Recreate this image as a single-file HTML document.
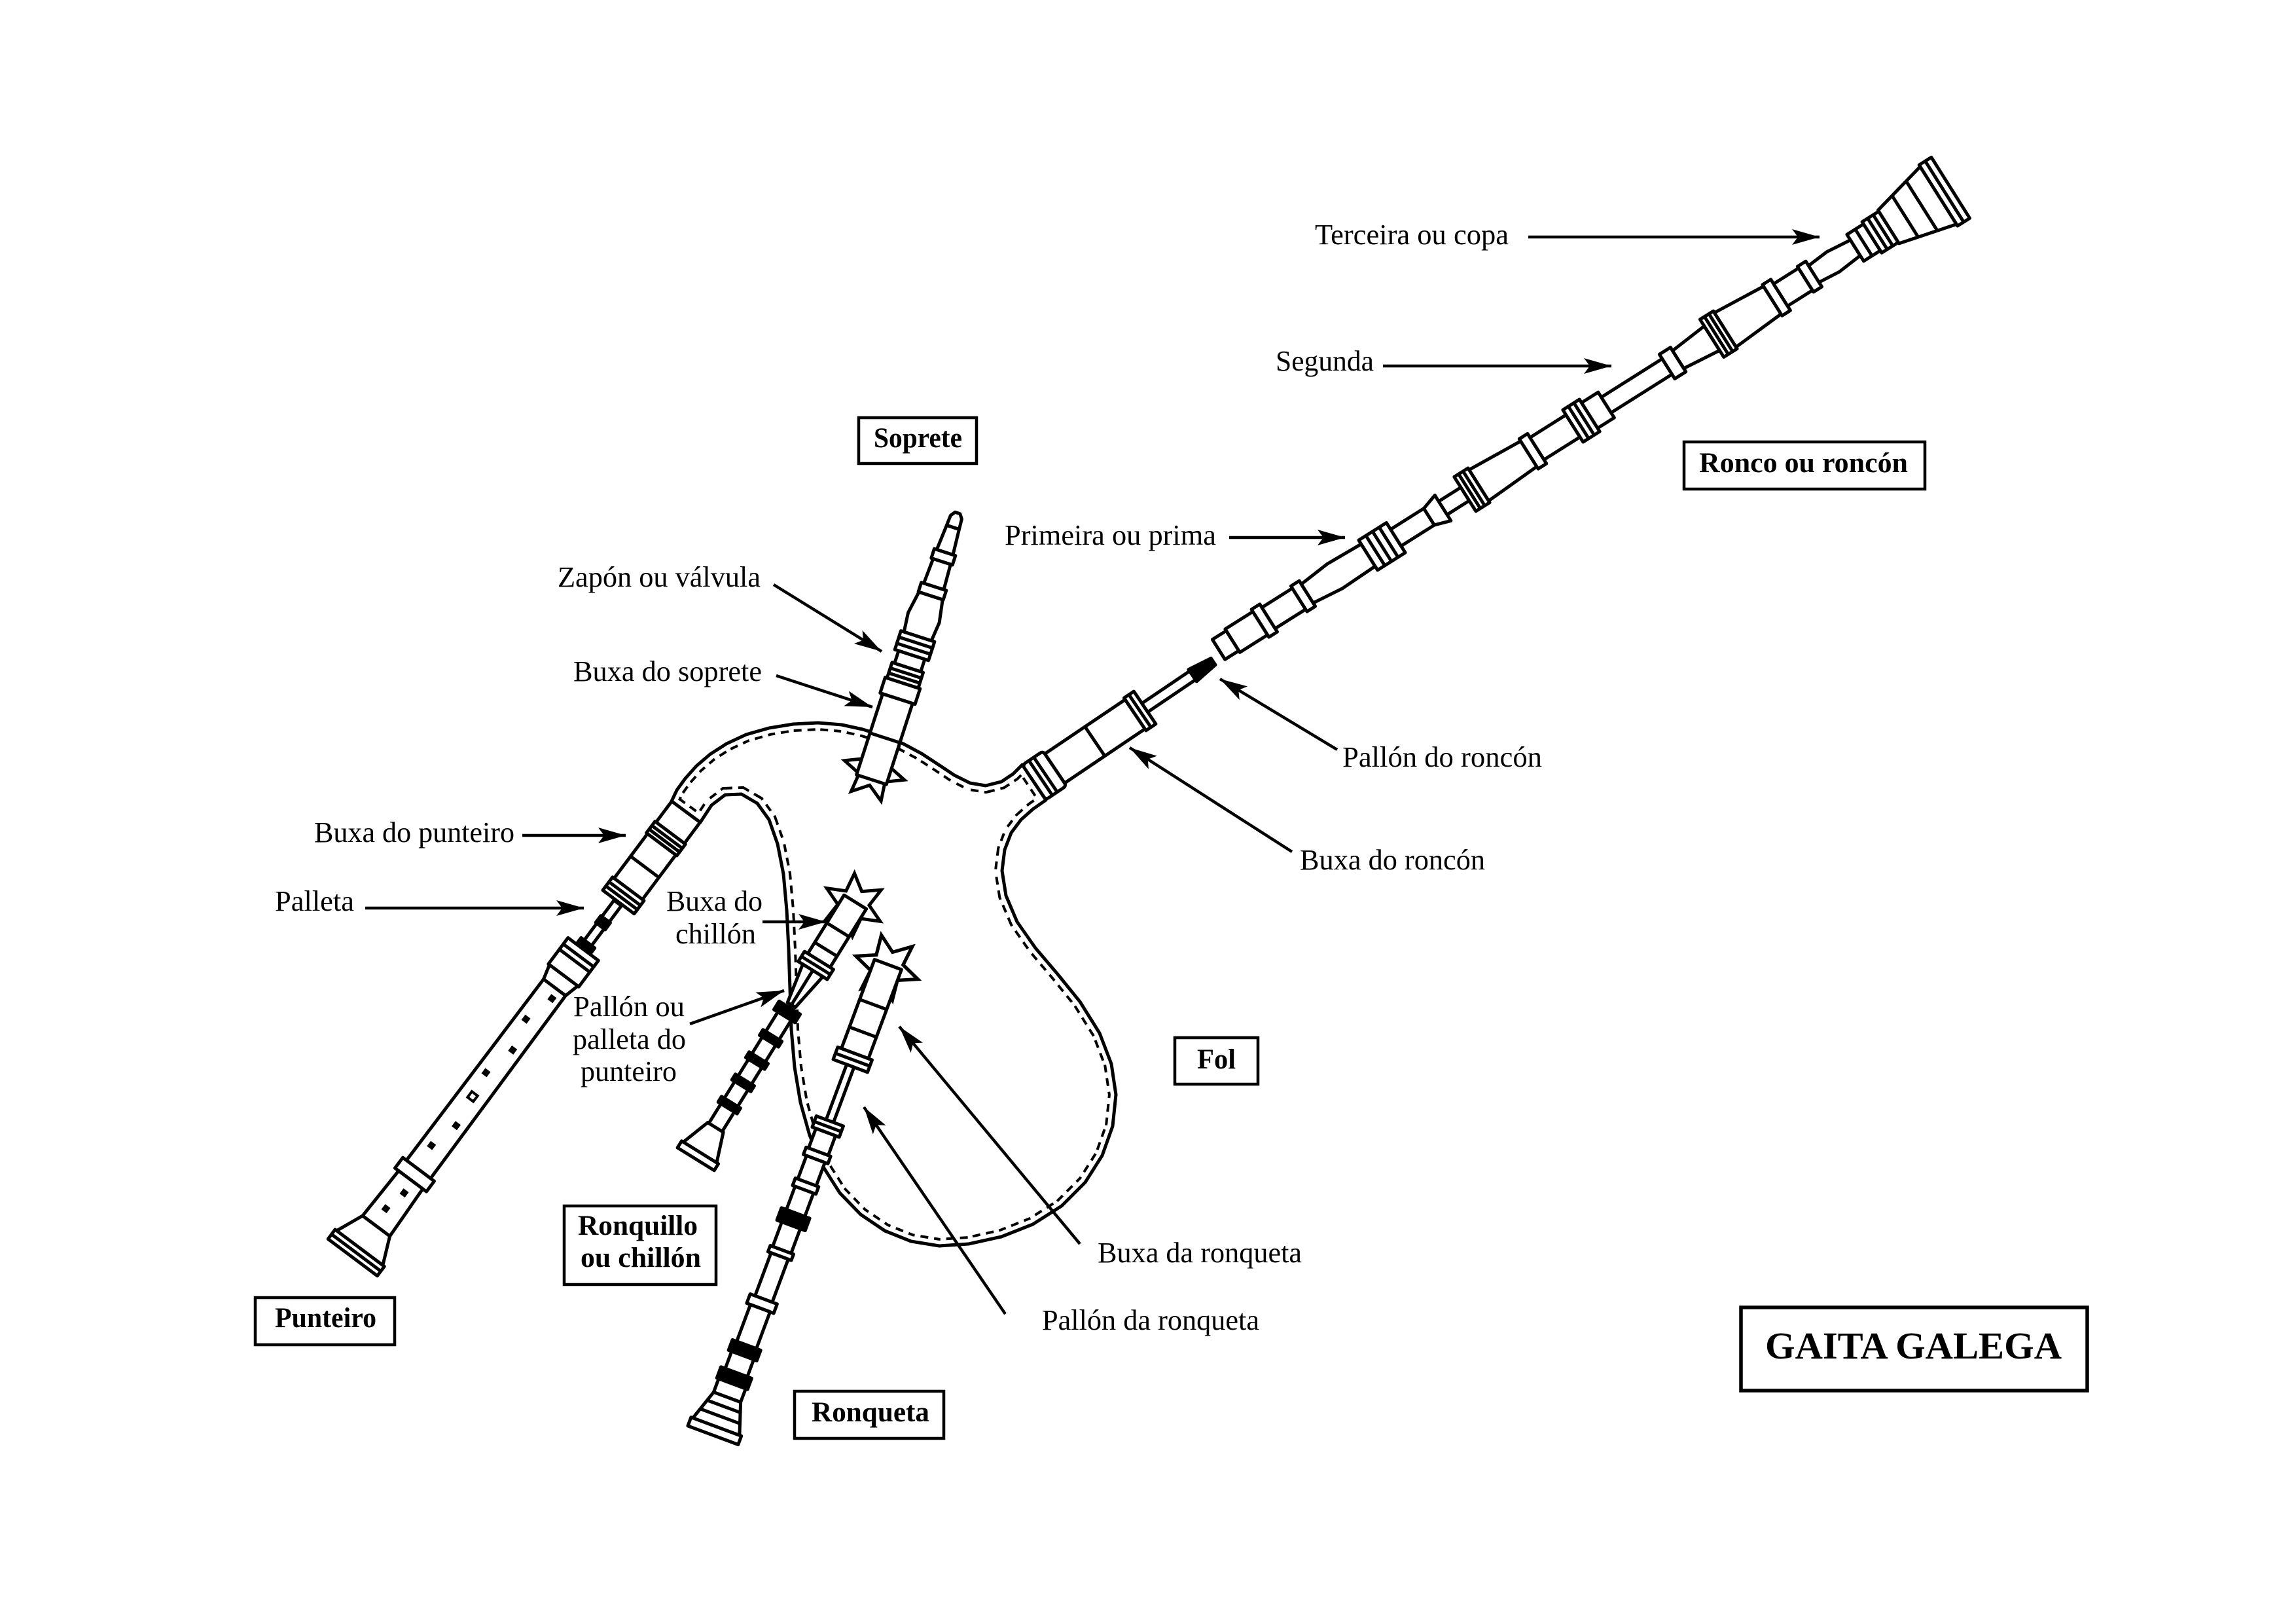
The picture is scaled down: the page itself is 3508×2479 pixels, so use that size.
<!DOCTYPE html>
<html>
<head>
<meta charset="utf-8">
<style>
html,body{margin:0;padding:0;background:#fff;}
svg{display:block;}
.p{fill:#fff;stroke:#000;stroke-width:5;stroke-linejoin:round;}
.k{fill:#000;stroke:#000;stroke-width:5;stroke-linejoin:round;}
.l{stroke:#000;stroke-width:5;}
.t{font-family:"Liberation Serif","Times New Roman",serif;font-size:44px;fill:#000;}
.b{font-family:"Liberation Serif","Times New Roman",serif;font-size:43px;font-weight:bold;fill:#000;}
.bx{fill:none;stroke:#000;stroke-width:4.5;}
.ar{stroke:#000;stroke-width:4.5;fill:none;}
</style>
</head>
<body>
<svg xmlns="http://www.w3.org/2000/svg" xmlns:xlink="http://www.w3.org/1999/xlink" width="3508" height="2479" viewBox="0 0 3508 2479">
<rect x="0" y="0" width="3508" height="2479" fill="#fff"/>
<defs>
  <marker id="ah" markerUnits="userSpaceOnUse" markerWidth="44" markerHeight="28" viewBox="0 -14 44 28" refX="42" refY="0" orient="auto">
    <path d="M42,0 L0,-12 L9,0 L0,12 Z" fill="#000"/>
  </marker>
  <polygon id="star" points="0,-48 12,-20.8 41.6,-24 24,0 41.6,24 12,20.8 0,48 -12,20.8 -41.6,24 -24,0 -41.6,-24 -12,-20.8" fill="#fff" stroke="#000" stroke-width="5" stroke-linejoin="miter"/>
  <path id="bag" d="M1026,1224 L1034,1207 L1047,1189 L1064,1170 L1085,1152 L1110,1136 L1140,1122 L1175,1112 L1212,1106 L1250,1104 L1286,1107 L1318,1114 L1350,1124 L1380,1136 L1408,1151 L1434,1168 L1458,1184 L1482,1196 L1506,1200 L1530,1194 L1548,1182 L1562,1168 L1598,1222 L1578,1236 L1560,1252 L1545,1272 L1535,1298 L1531,1330 L1537,1368 L1554,1408 L1582,1448 L1616,1488 L1650,1530 L1680,1578 L1698,1625 L1705,1672 L1700,1720 L1684,1765 L1658,1806 L1622,1842 L1578,1870 L1530,1889 L1480,1900 L1435,1903 L1392,1896 L1352,1880 L1315,1855 L1283,1822 L1257,1781 L1237,1734 L1223,1684 L1214,1630 L1209,1572 L1207,1510 L1205,1450 L1202,1390 L1197,1335 L1188,1289 L1175,1252 L1157,1227 L1133,1213 L1108,1214 L1087,1230 L1070,1256 Z"/>
  <clipPath id="bagclip">
    <use href="#bag" xlink:href="#bag"/>
  </clipPath>
</defs>

<!-- BAG (fol) -->
<g clip-path="url(#bagclip)">
  <use href="#bag" xlink:href="#bag" fill="none" stroke="#000" stroke-width="24" stroke-dasharray="12 9"/>
  <use href="#bag" xlink:href="#bag" fill="none" stroke="#fff" stroke-width="16"/>
</g>
<use href="#bag" xlink:href="#bag" fill="none" stroke="#000" stroke-width="5" stroke-linejoin="round"/>

<!-- PUNTEIRO (chanter) -->
<g transform="translate(1048,1240) rotate(126.8)">
  <rect class="p" x="0" y="-27" width="40" height="54"/>
  <rect class="p" x="40" y="-29" width="22" height="58"/>
  <line class="l" x1="48" y1="-29" x2="48" y2="29"/>
  <line class="l" x1="55" y1="-29" x2="55" y2="29"/>
  <rect class="p" x="62" y="-27" width="85" height="54"/>
  <line class="l" x1="105" y1="-27" x2="105" y2="27"/>
  <rect class="p" x="147" y="-30" width="25" height="60"/>
  <line class="l" x1="156" y1="-30" x2="156" y2="30"/>
  <line class="l" x1="164" y1="-30" x2="164" y2="30"/>
  <rect class="p" x="174" y="-7" width="76" height="14"/>
  <rect class="k" x="205" y="-9" width="13" height="18"/>
  <rect class="k" x="250" y="-13" width="12" height="26"/>
  <rect class="p" x="262" y="-29" width="50" height="58"/>
  <line class="l" x1="274" y1="-29" x2="274" y2="29"/>
  <line class="l" x1="284" y1="-29" x2="284" y2="29"/>
  <polygon class="p" points="312,-27 335,-21 335,21 312,27"/>
  <polygon class="p" points="335,-21 682,-23 682,23 335,21"/>
  <rect class="p" x="682" y="-30" width="20" height="60"/>
  <polygon class="p" points="702,-23 790,-26 790,26 702,23"/>
  <polygon class="p" points="790,-26 832,-44 832,44 790,26"/>
  <rect class="p" x="832" y="-47" width="18" height="94"/>
  <line class="l" x1="841" y1="-47" x2="841" y2="47"/>
  <rect fill="#000" x="346" y="-12" width="10" height="10"/>
  <rect fill="#000" x="395" y="1" width="10" height="10"/>
  <rect fill="#000" x="445" y="-11" width="10" height="10"/>
  <rect fill="#000" x="497" y="1" width="10" height="10"/>
  <rect fill="#fff" stroke="#000" stroke-width="4" x="538" y="-5" width="11" height="11"/>
  <rect fill="#000" x="589" y="-11" width="10" height="10"/>
  <rect fill="#000" x="636" y="1" width="10" height="10"/>
  <rect fill="#000" x="719" y="-9" width="10" height="10"/>
  <rect fill="#000" x="755" y="-1" width="10" height="10"/>
</g>

<!-- RONQUILLO / CHILLON -->
<g transform="translate(1304,1382) rotate(121.8)">
  <use href="#star" xlink:href="#star"/>
  <rect class="p" x="-5" y="-20" width="105" height="40"/>
  <line class="l" x1="45" y1="-20" x2="45" y2="20"/>
  <line class="l" x1="80" y1="-20" x2="80" y2="20"/>
  <rect class="p" x="100" y="-26" width="18" height="52"/>
  <line class="l" x1="109" y1="-26" x2="109" y2="26"/>
  <polygon class="p" points="118,-18 180,-7 180,7 118,18"/>
  <line class="l" x1="118" y1="0" x2="180" y2="0"/>
  <rect class="k" x="185" y="-19" width="15" height="38"/>
  <rect class="p" x="200" y="-12" width="200" height="24"/>
  <rect class="k" x="235" y="-17" width="10" height="34"/>
  <rect class="k" x="275" y="-17" width="10" height="34"/>
  <rect class="k" x="315" y="-17" width="10" height="34"/>
  <rect class="k" x="355" y="-17" width="10" height="34"/>
  <polygon class="p" points="400,-14 445,-30 445,30 400,14"/>
  <rect class="p" x="445" y="-33" width="12" height="66"/>
</g>

<!-- RONQUETA -->
<g transform="translate(1355,1478) rotate(110.4)">
  <use href="#star" xlink:href="#star" transform="scale(1.05)"/>
  <rect class="p" x="-5" y="-22" width="145" height="44"/>
  <line class="l" x1="60" y1="-22" x2="60" y2="22"/>
  <line class="l" x1="105" y1="-22" x2="105" y2="22"/>
  <rect class="p" x="140" y="-28" width="20" height="56"/>
  <line class="l" x1="150" y1="-28" x2="150" y2="28"/>
  <rect class="p" x="160" y="-6" width="90" height="12"/>
  <rect class="p" x="250" y="-22" width="18" height="44"/>
  <line class="l" x1="259" y1="-22" x2="259" y2="22"/>
  <rect class="p" x="268" y="-16" width="32" height="32"/>
  <rect class="p" x="300" y="-20" width="12" height="40"/>
  <rect class="p" x="312" y="-15" width="38" height="30"/>
  <rect class="p" x="350" y="-19" width="12" height="38"/>
  <rect class="p" x="362" y="-15" width="38" height="30"/>
  <rect class="k" x="400" y="-23" width="20" height="46"/>
  <rect class="p" x="420" y="-15" width="40" height="30"/>
  <rect class="p" x="460" y="-19" width="10" height="38"/>
  <rect class="p" x="470" y="-14" width="70" height="28"/>
  <rect class="p" x="540" y="-22" width="15" height="44"/>
  <rect class="p" x="555" y="-16" width="60" height="32"/>
  <rect class="k" x="615" y="-23" width="17" height="46"/>
  <rect class="p" x="632" y="-18" width="28" height="36"/>
  <rect class="k" x="660" y="-25" width="18" height="50"/>
  <rect class="p" x="678" y="-22" width="22" height="44"/>
  <polygon class="p" points="700,-22 748,-38 748,38 700,22"/>
  <line class="l" x1="715" y1="-27" x2="715" y2="27"/>
  <line class="l" x1="731" y1="-32" x2="731" y2="32"/>
  <rect class="p" x="748" y="-41" width="14" height="82"/>
</g>

<!-- SOPRETE -->
<g transform="translate(1333,1186) rotate(-72.1)">
  <use href="#star" xlink:href="#star" x="10" y="0"/>
  <rect class="p" x="-5" y="-24" width="130" height="48"/>
  <line class="l" x1="62" y1="-24" x2="62" y2="24"/>
  <rect class="p" x="125" y="-28" width="25" height="56"/>
  <rect class="p" x="150" y="-25" width="25" height="50"/>
  <line class="l" x1="158" y1="-25" x2="158" y2="25"/>
  <line class="l" x1="166" y1="-25" x2="166" y2="25"/>
  <rect class="p" x="175" y="-21" width="20" height="42"/>
  <rect class="p" x="195" y="-27" width="30" height="54"/>
  <line class="l" x1="205" y1="-27" x2="205" y2="27"/>
  <line class="l" x1="215" y1="-27" x2="215" y2="27"/>
  <polygon class="p" points="225,-22 255,-25 290,-19 290,19 255,25 225,22"/>
  <rect class="p" x="290" y="-20" width="15" height="40"/>
  <polygon class="p" points="305,-16 345,-14 345,14 305,16"/>
  <rect class="p" x="345" y="-17" width="15" height="34"/>
  <polygon class="p" points="360,-13 400,-10 400,10 360,13"/>
  <polygon class="p" points="400,-10 416,-9 423,-4 423,4 416,9 400,10"/>
</g>

<!-- RONCO: stock + reed -->
<g transform="translate(1580,1195) rotate(-34)">
  <rect class="p" x="0" y="-32" width="38" height="64" rx="5"/>
  <line class="l" x1="12" y1="-32" x2="12" y2="32"/>
  <line class="l" x1="21" y1="-32" x2="21" y2="32"/>
  <rect class="p" x="38" y="-27" width="148" height="54"/>
  <line class="l" x1="112" y1="-27" x2="112" y2="27"/>
  <rect class="p" x="186" y="-30" width="18" height="60"/>
  <line class="l" x1="195" y1="-30" x2="195" y2="30"/>
  <rect class="p" x="204" y="-8" width="90" height="16"/>
  <polygon class="k" points="292,-11 330,-6 330,6 292,11"/>
</g>

<!-- RONCO: primeira, segunda, terceira -->
<g transform="translate(1862,992) rotate(-32.24)">
  <rect class="p" x="0" y="-18" width="25" height="36"/>
  <rect class="p" x="25" y="-21" width="50" height="42"/>
  <rect class="p" x="75" y="-25" width="15" height="50"/>
  <rect class="p" x="90" y="-19" width="55" height="38"/>
  <rect class="p" x="145" y="-23" width="15" height="46"/>
  <polygon class="p" points="160,-17 210,-22 270,-20 270,20 210,22 160,17"/>
  <rect class="p" x="270" y="-27" width="50" height="54"/>
  <line class="l" x1="283" y1="-27" x2="283" y2="27"/>
  <line class="l" x1="295" y1="-27" x2="295" y2="27"/>
  <line class="l" x1="307" y1="-27" x2="307" y2="27"/>
  <rect class="p" x="320" y="-15" width="60" height="30"/>
  <polygon class="p" points="380,-15 405,-23 405,23 380,15"/>
  <rect class="p" x="405" y="-12" width="40" height="24"/>

  <rect class="p" x="445" y="-31" width="25" height="62"/>
  <line class="l" x1="453" y1="-31" x2="453" y2="31"/>
  <line class="l" x1="461" y1="-31" x2="461" y2="31"/>
  <polygon class="p" points="470,-28 560,-23 560,23 470,28"/>
  <rect class="p" x="560" y="-27" width="15" height="54"/>
  <rect class="p" x="575" y="-20" width="65" height="40"/>
  <rect class="p" x="640" y="-29" width="30" height="58"/>
  <line class="l" x1="650" y1="-29" x2="650" y2="29"/>
  <line class="l" x1="660" y1="-29" x2="660" y2="29"/>
  <rect class="p" x="670" y="-23" width="30" height="46"/>
  <rect class="p" x="700" y="-14" width="110" height="28"/>
  <rect class="p" x="810" y="-22" width="20" height="44"/>
  <polygon class="p" points="830,-16 891,-22 891,22 830,16"/>

  <rect class="p" x="891" y="-34" width="24" height="68"/>
  <line class="l" x1="899" y1="-34" x2="899" y2="34"/>
  <line class="l" x1="907" y1="-34" x2="907" y2="34"/>
  <polygon class="p" points="915,-31 1000,-25 1000,25 915,31"/>
  <rect class="p" x="1000" y="-28" width="15" height="56"/>
  <rect class="p" x="1015" y="-20" width="45" height="40"/>
  <rect class="p" x="1060" y="-23" width="15" height="46"/>
  <polygon class="p" points="1075,-15 1110,-18 1150,-14 1150,14 1110,18 1075,15"/>
  <rect class="p" x="1150" y="-24" width="30" height="48"/>
  <line class="l" x1="1165" y1="-24" x2="1165" y2="24"/>
  <rect class="p" x="1180" y="-28" width="30" height="56"/>
  <line class="l" x1="1190" y1="-28" x2="1190" y2="28"/>
  <line class="l" x1="1200" y1="-28" x2="1200" y2="28"/>
  <polygon class="p" points="1210,-30 1300,-52 1300,52 1210,30"/>
  <line class="l" x1="1240" y1="-37" x2="1240" y2="37"/>
  <line class="l" x1="1270" y1="-45" x2="1270" y2="45"/>
  <rect class="p" x="1300" y="-55" width="22" height="110"/>
  <line class="l" x1="1311" y1="-55" x2="1311" y2="55"/>
</g>

<!-- ARROWS -->
<line class="ar" x1="2335" y1="362" x2="2780" y2="362" marker-end="url(#ah)"/>
<line class="ar" x1="2113" y1="559" x2="2462" y2="559" marker-end="url(#ah)"/>
<line class="ar" x1="1878" y1="821" x2="2055" y2="821" marker-end="url(#ah)"/>
<line class="ar" x1="1182" y1="893" x2="1347" y2="995" marker-end="url(#ah)"/>
<line class="ar" x1="1186" y1="1032" x2="1333" y2="1080" marker-end="url(#ah)"/>
<line class="ar" x1="2043" y1="1145" x2="1864" y2="1037" marker-end="url(#ah)"/>
<line class="ar" x1="1974" y1="1301" x2="1726" y2="1142" marker-end="url(#ah)"/>
<line class="ar" x1="798" y1="1276" x2="956" y2="1276" marker-end="url(#ah)"/>
<line class="ar" x1="558" y1="1387" x2="892" y2="1387" marker-end="url(#ah)"/>
<line class="ar" x1="1165" y1="1408" x2="1262" y2="1408" marker-end="url(#ah)"/>
<line class="ar" x1="1054" y1="1564" x2="1198" y2="1513" marker-end="url(#ah)"/>
<line class="ar" x1="1650" y1="1900" x2="1374" y2="1568" marker-end="url(#ah)"/>
<line class="ar" x1="1536" y1="2007" x2="1320" y2="1691" marker-end="url(#ah)"/>

<!-- LABELS -->
<text class="t" x="2009" y="373" textLength="296" lengthAdjust="spacingAndGlyphs">Terceira ou copa</text>
<text class="t" x="1949" y="566" textLength="150" lengthAdjust="spacingAndGlyphs">Segunda</text>
<text class="t" x="1535" y="832" textLength="323" lengthAdjust="spacingAndGlyphs">Primeira ou prima</text>
<text class="t" x="852" y="896" textLength="310" lengthAdjust="spacingAndGlyphs">Zapón ou válvula</text>
<text class="t" x="876" y="1040" textLength="288" lengthAdjust="spacingAndGlyphs">Buxa do soprete</text>
<text class="t" x="2051" y="1171" textLength="305" lengthAdjust="spacingAndGlyphs">Pallón do roncón</text>
<text class="t" x="1986" y="1328" textLength="283" lengthAdjust="spacingAndGlyphs">Buxa do roncón</text>
<text class="t" x="480" y="1286" textLength="306" lengthAdjust="spacingAndGlyphs">Buxa do punteiro</text>
<text class="t" x="420" y="1391" textLength="121" lengthAdjust="spacingAndGlyphs">Palleta</text>
<text class="t" x="1018" y="1391" textLength="147" lengthAdjust="spacingAndGlyphs">Buxa do</text>
<text class="t" x="1032" y="1441" textLength="123" lengthAdjust="spacingAndGlyphs">chillón</text>
<text class="t" x="876" y="1552" textLength="170" lengthAdjust="spacingAndGlyphs">Pallón ou</text>
<text class="t" x="875" y="1602" textLength="173" lengthAdjust="spacingAndGlyphs">palleta do</text>
<text class="t" x="887" y="1651" textLength="147" lengthAdjust="spacingAndGlyphs">punteiro</text>
<text class="t" x="1677" y="1928" textLength="312" lengthAdjust="spacingAndGlyphs">Buxa da ronqueta</text>
<text class="t" x="1592" y="2031" textLength="332" lengthAdjust="spacingAndGlyphs">Pallón da ronqueta</text>

<!-- BOXED LABELS -->
<rect class="bx" x="1312" y="638" width="180" height="70"/>
<text class="b" x="1335" y="683" textLength="135" lengthAdjust="spacingAndGlyphs">Soprete</text>

<rect class="bx" x="2573" y="675" width="368" height="72"/>
<text class="b" x="2596" y="721" textLength="319" lengthAdjust="spacingAndGlyphs">Ronco ou roncón</text>

<rect class="bx" x="1795" y="1585" width="127" height="71"/>
<text class="b" x="1829" y="1632" textLength="59" lengthAdjust="spacingAndGlyphs">Fol</text>

<rect class="bx" x="862" y="1842" width="232" height="120"/>
<text class="b" x="883" y="1886" textLength="183" lengthAdjust="spacingAndGlyphs">Ronquillo</text>
<text class="b" x="887" y="1935" textLength="184" lengthAdjust="spacingAndGlyphs">ou chillón</text>

<rect class="bx" x="390" y="1982" width="213" height="72"/>
<text class="b" x="420" y="2027" textLength="155" lengthAdjust="spacingAndGlyphs">Punteiro</text>

<rect class="bx" x="1214" y="2125" width="228" height="72"/>
<text class="b" x="1240" y="2171" textLength="180" lengthAdjust="spacingAndGlyphs">Ronqueta</text>

<rect x="2660" y="1997" width="529" height="127" fill="none" stroke="#000" stroke-width="5.5"/>
<text x="2697" y="2075" font-family="Liberation Serif, Times New Roman, serif" font-size="58" font-weight="bold" textLength="453" lengthAdjust="spacingAndGlyphs">GAITA GALEGA</text>
</svg>
</body>
</html>
